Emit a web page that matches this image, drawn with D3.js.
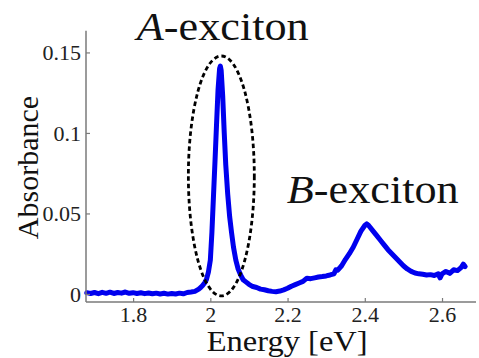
<!DOCTYPE html>
<html>
<head>
<meta charset="utf-8">
<script src="https://cdn.jsdelivr.net/npm/d3@7"></script>
<style>
  html, body { margin: 0; padding: 0; background: #fff; }
  svg { display: block; }
</style>
</head>
<body>
<svg id="chart" width="479" height="358"></svg>
<script>
// Absorption spectrum: photon energy (eV) and measured absorbance
const energy = [
  1.68, 1.69, 1.70, 1.71, 1.72, 1.73, 1.74, 1.75, 1.76, 1.77,
  1.78, 1.79, 1.80, 1.81, 1.82, 1.83, 1.84, 1.85, 1.86, 1.87,
  1.88, 1.89, 1.90, 1.91, 1.92, 1.93, 1.94, 1.95, 1.96, 1.97,
  1.975, 1.98, 1.985, 1.99, 1.995, 2.000, 2.004, 2.008, 2.012, 2.016,
  2.020, 2.024, 2.026, 2.028, 2.032, 2.036, 2.040, 2.045, 2.050, 2.055,
  2.060, 2.066, 2.072, 2.078, 2.085, 2.092, 2.10, 2.11, 2.12, 2.13,
  2.14, 2.15, 2.16, 2.17, 2.18, 2.19, 2.20, 2.21, 2.22, 2.23,
  2.24, 2.25, 2.26, 2.27, 2.28, 2.29, 2.30, 2.31, 2.32, 2.325,
  2.33, 2.34, 2.35, 2.36, 2.37, 2.38, 2.39, 2.40, 2.405, 2.41,
  2.42, 2.43, 2.44, 2.45, 2.46, 2.47, 2.48, 2.49, 2.50, 2.51,
  2.52, 2.53, 2.54, 2.55, 2.56, 2.57, 2.58, 2.59, 2.595, 2.60,
  2.61, 2.62, 2.63, 2.64, 2.65, 2.655, 2.66
];
const absorbance = [
  0.0008, 0.0003, 0.0009, 0.0002, 0.0010, 0.0004, 0.0011, 0.0003, 0.0009, 0.0005,
  0.0012, 0.0004, 0.0008, 0.0003, 0.0007, 0.0002, 0.0006, 0.0001, 0.0005, 0.0000,
  0.0004, -0.0001, 0.0003, 0.0000, 0.0005, 0.0001, 0.0009, 0.0012, 0.0016, 0.0030,
  0.0040, 0.0052, 0.0068, 0.0090, 0.0135, 0.0210, 0.0380, 0.0600, 0.0820, 0.1050,
  0.1270, 0.1400, 0.1415, 0.1390, 0.1230, 0.1000, 0.0800, 0.0620, 0.0480, 0.0380,
  0.0290, 0.0210, 0.0155, 0.0120, 0.0088, 0.0075, 0.0060, 0.0046, 0.0040, 0.0030,
  0.0026, 0.0020, 0.0016, 0.0014, 0.0018, 0.0025, 0.0035, 0.0048, 0.0058, 0.0068,
  0.0078, 0.0098, 0.0095, 0.0100, 0.0105, 0.0108, 0.0112, 0.0118, 0.0125, 0.0150,
  0.0148, 0.0175, 0.0215, 0.0250, 0.0290, 0.0340, 0.0390, 0.0425, 0.0435, 0.0425,
  0.0395, 0.0365, 0.0335, 0.0305, 0.0275, 0.0250, 0.0225, 0.0200, 0.0175, 0.0155,
  0.0140, 0.0130, 0.0125, 0.0122, 0.0118, 0.0120, 0.0115, 0.0125, 0.0100, 0.0125,
  0.0140, 0.0128, 0.0150, 0.0145, 0.0165, 0.0185, 0.0170
];

const xTicks = [1.8, 2.0, 2.2, 2.4, 2.6];
const xTickLabels = ["1.8", "2", "2.2", "2.4", "2.6"];
const yTicks = [0, 0.05, 0.1, 0.15];
const yTickLabels = ["0", "0.05", "0.1", "0.15"];

// Peak annotations in data units
const peakNames = ["A", "B"];
const peakLabelEnergy = [1.8096, 2.198];
const peakLabelValue = [0.1578, 0.0565];
const ringCenter = [2.0285, 0.0733];   // energy, absorbance
const ringRadius = [0.0854, 0.0745];   // energy, absorbance

const FONT = "Liberation Serif";

const svg = d3.select("#chart");
const margin = { left: 86, top: 30.7, right: 3, bottom: 56 };
const W = 479, H = 358;
const plotW = W - margin.left - margin.right;
const plotH = H - margin.top - margin.bottom;

const x = d3.scaleLinear().domain([1.678, 2.688]).range([margin.left, margin.left + plotW]);
const y = d3.scaleLinear().domain([-0.005, 0.1635]).range([margin.top + plotH, margin.top]);

const axisColor = "#7a7a7a";

// Scale a text element horizontally to a target width, anchored at its left
function fitText(sel, x0, y0, width) {
  const w = sel.node().getComputedTextLength();
  sel.attr("transform", `translate(${x0},${y0}) scale(${width / w},1)`);
}

// Spectrum trace
const pts = energy.map((e, i) => [e, absorbance[i]]);
svg.append("path")
  .datum(pts)
  .attr("fill", "none")
  .attr("stroke", "#0000ee")
  .attr("stroke-width", 5)
  .attr("stroke-linejoin", "round")
  .attr("stroke-linecap", "round")
  .attr("d", d3.line().x(d => x(d[0])).y(d => y(d[1])));

// Dashed ring around the A peak
svg.append("ellipse")
  .attr("cx", x(ringCenter[0]))
  .attr("cy", y(ringCenter[1]))
  .attr("rx", x(ringCenter[0] + ringRadius[0]) - x(ringCenter[0]))
  .attr("ry", y(ringCenter[1] - ringRadius[1]) - y(ringCenter[1]))
  .attr("fill", "none")
  .attr("stroke", "#000")
  .attr("stroke-width", 2.8)
  .attr("stroke-dasharray", "4.5,3");

// Axes (left and bottom spines only, ticks pointing inward)
const xAxis = d3.axisBottom(x).tickValues(xTicks).tickSize(-4)
  .tickFormat((d, i) => xTickLabels[i]);
const gx = svg.append("g")
  .attr("transform", `translate(0,${margin.top + plotH})`)
  .call(xAxis);
const yAxis = d3.axisLeft(y).tickValues(yTicks).tickSize(-4).tickPadding(5)
  .tickFormat((d, i) => yTickLabels[i]);
const gy = svg.append("g")
  .attr("transform", `translate(${margin.left},0)`)
  .call(yAxis);

[gx, gy].forEach(g => {
  g.attr("font-family", FONT).attr("font-size", 22);
  g.select(".domain").remove();
  g.selectAll(".tick line").attr("stroke", axisColor).attr("stroke-width", 1.2);
  g.selectAll(".tick text").attr("fill", "#222");
});
gx.selectAll(".tick text").attr("dy", null).attr("y", 19.5);
gy.selectAll(".tick text").attr("dy", "0.33em");

svg.append("line")
  .attr("x1", x.range()[0]).attr("x2", x.range()[1])
  .attr("y1", y.range()[0]).attr("y2", y.range()[0])
  .attr("stroke", axisColor).attr("stroke-width", 1.5);
svg.append("line")
  .attr("x1", x.range()[0]).attr("x2", x.range()[0])
  .attr("y1", y.range()[0]).attr("y2", y.range()[1])
  .attr("stroke", axisColor).attr("stroke-width", 1.5);

// Axis titles
const xt = svg.append("text").attr("font-family", FONT).attr("font-size", 30)
  .attr("fill", "#111").text("Energy [eV]");
fitText(xt, 206.7, 351, 161);

svg.append("text")
  .attr("font-family", FONT)
  .attr("font-size", 30)
  .attr("fill", "#111")
  .attr("text-anchor", "middle")
  .attr("transform", "translate(37.5,167.5) rotate(-90)")
  .text("Absorbance");

// Peak labels: italic letter followed by "-exciton"
const labelWidths = [172, 172];
peakNames.forEach((name, i) => {
  const t = svg.append("text").attr("font-family", FONT).attr("font-size", 39).attr("fill", "#111");
  t.append("tspan").attr("font-style", "italic").text(name);
  t.append("tspan").text("-exciton");
  fitText(t, x(peakLabelEnergy[i]), y(peakLabelValue[i]), labelWidths[i]);
});
</script>
</body>
</html>
